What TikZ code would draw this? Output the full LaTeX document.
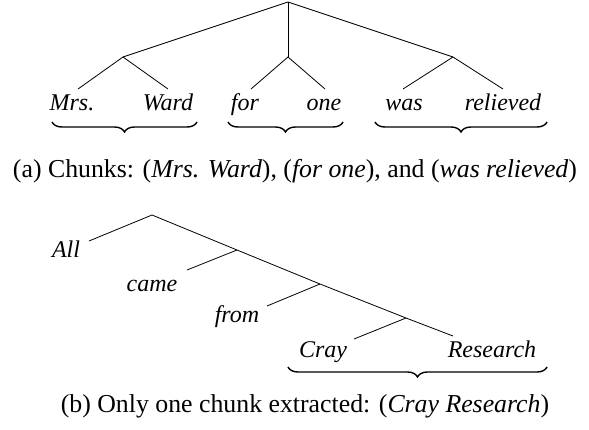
\documentclass[tikz,border=0pt]{standalone}
\usepackage{fontspec}
\setmainfont{Liberation Serif}
\usetikzlibrary{decorations.pathreplacing}
\tikzset{
  edge/.style={line width=0.8pt},
  word/.style={anchor=base, inner sep=0pt, font=\fontsize{24}{28}\selectfont\itshape},
  caption/.style={anchor=base, inner sep=0pt, font=\fontsize{25.8}{30}\selectfont},
  chunk/.style={line width=1.4pt, decorate, decoration={brace, mirror, amplitude=10pt}}
}
\begin{document}
\begin{tikzpicture}[x=1pt, y=-1pt]
\useasboundingbox (0,0) rectangle (589,429);

% ---- (a) flat tree with three chunks ----
\coordinate (r)  at (288,2);
\coordinate (nl) at (123,57);
\coordinate (nm) at (288,57);
\coordinate (nr) at (453,57);
\coordinate (lMrs) at (78,89);
\coordinate (lWard) at (168,89);
\coordinate (lfor) at (251,89);
\coordinate (lone) at (325,89);
\coordinate (lwas) at (403,89);
\coordinate (lrel) at (503,89);

\draw[edge] (nl) -- (r) -- (nr);
\draw[edge] (r) -- (nm);
\draw[edge] (lMrs) -- (nl) -- (lWard);
\draw[edge] (lfor) -- (nm) -- (lone);
\draw[edge] (lwas) -- (nr) -- (lrel);

\node[word] (wMrs) at (72,110) {Mrs.};
\node[word] (wWard) at (168,110) {Ward};
\node[word] (wfor) at (245,110) {for};
\node[word] (wone) at (324,110) {one};
\node[word] (wwas) at (404,110) {was};
\node[word] (wrel) at (503,110) {relieved};

\coordinate (b1s) at (52,122);  \coordinate (b1e) at (197,122);
\coordinate (b2s) at (228,122); \coordinate (b2e) at (343,122);
\coordinate (b3s) at (375,122); \coordinate (b3e) at (547,122);
\draw[chunk] (b1s) -- (b1e);
\draw[chunk] (b2s) -- (b2e);
\draw[chunk] (b3s) -- (b3e);

\node[caption] (capa) at (295,177) {(a) Chunks: (\textit{Mrs. Ward}), (\textit{for one}), and (\textit{was relieved})};

% ---- (b) right-branching tree with one chunk ----
\coordinate (s0) at (152,215);
\coordinate (s1) at (237,250);
\coordinate (s2) at (320,284);
\coordinate (s3) at (406,318);
\coordinate (eAll) at (89,241);
\coordinate (ecame) at (187,270);
\coordinate (efrom) at (267,306);
\coordinate (eCray) at (354,339);
\coordinate (eRes) at (453,336);

\draw[edge] (eAll) -- (s0) -- (s1) -- (s2) -- (s3) -- (eRes);
\draw[edge] (ecame) -- (s1);
\draw[edge] (efrom) -- (s2);
\draw[edge] (eCray) -- (s3);

\node[word] (wAll) at (66,257) {All};
\node[word] (wcame) at (152,291) {came};
\node[word] (wfrom) at (237,322) {from};
\node[word] (wCray) at (323,357) {Cray};
\node[word] (wRes) at (492,357) {Research};

\coordinate (b4s) at (288,367); \coordinate (b4e) at (547,367);
\draw[chunk] (b4s) -- (b4e);

\node[caption] (capb) at (305,412) {(b) Only one chunk extracted: (\textit{Cray Research})};
\end{tikzpicture}
\end{document}
